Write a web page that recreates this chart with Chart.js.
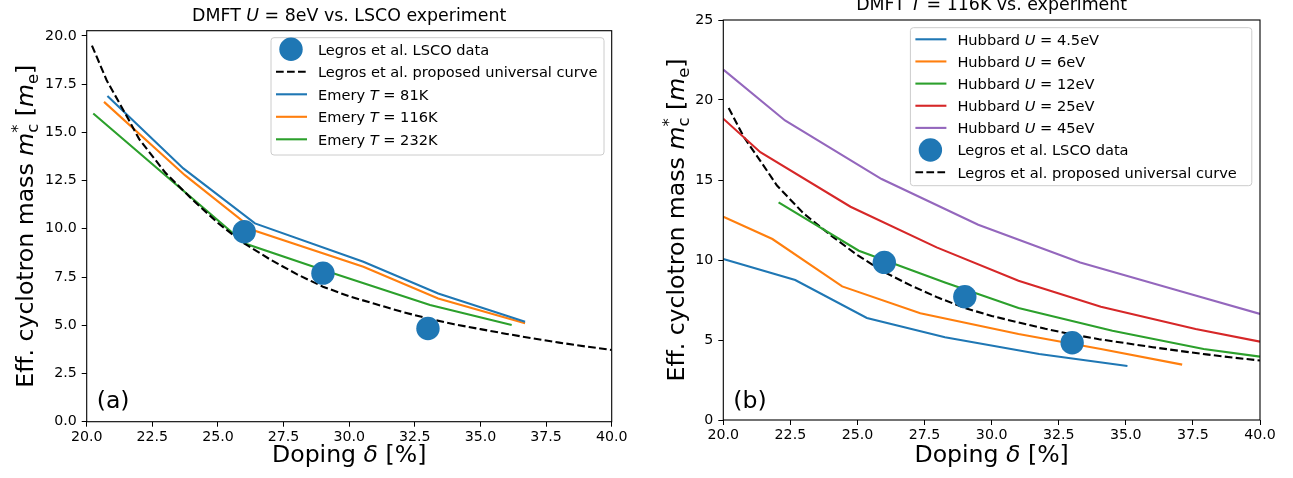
<!DOCTYPE html>
<html>
<head>
<meta charset="utf-8">
<title>DMFT cyclotron mass vs. experiment</title>
<script src="https://cdn.jsdelivr.net/npm/chart.js@4.4.1/dist/chart.umd.min.js"></script>
<style>
  html, body { margin: 0; padding: 0; background: #fff; }
  #wrap { position: relative; width: 1293px; height: 478px; overflow: hidden; }
  canvas { position: absolute; top: 0; }
  #chartA { left: 0; }
  #chartB { left: 646px; }
</style>
</head>
<body>
<div id="wrap">
  <canvas id="chartA" width="646" height="478"></canvas>
  <canvas id="chartB" width="647" height="478"></canvas>
</div>
<script>
// ---- values ----
var xTicks = [20, 22.5, 25, 27.5, 30, 32.5, 35, 37.5, 40];
var yTicksA = [0, 2.5, 5, 7.5, 10, 12.5, 15, 17.5, 20];
var yTicksB = [0, 5, 10, 15, 20, 25];

// Legros et al. LSCO data
var lscoX = [26, 29, 33];
var lscoY = [9.85, 7.7, 4.83];

// Legros et al. proposed universal curve
var legrosX = [20.2, 20.76, 21.5, 22, 23, 24, 25, 26, 27, 28, 29, 30, 31, 32, 33, 34, 35, 36, 37, 38, 39, 40];
var legrosY = [19.5, 17.7, 15.9, 14.65, 12.9, 11.55, 10.3, 9.24, 8.4, 7.65, 7.0, 6.5, 6.1, 5.7, 5.35, 5.05, 4.8, 4.55, 4.32, 4.1, 3.9, 3.72];

// panel (a): Emery model, U = 8eV
var emery81X = [20.79, 23.68, 26.41, 30.54, 33.39, 36.7];
var emery81Y = [16.88, 13.13, 10.28, 8.29, 6.65, 5.18];
var emery116X = [20.66, 23.74, 26.41, 30.54, 33.39, 36.7];
var emery116Y = [16.58, 12.78, 9.9, 8.03, 6.39, 5.1];
var emery232X = [20.25, 26.03, 29.01, 33.08, 36.19];
var emery232Y = [15.98, 9.24, 7.86, 6.05, 5.01];

// panel (b): Hubbard model, T = 116K
var hub4p5X = [20, 22.68, 25.35, 28.26, 31.77, 35.06];
var hub4p5Y = [10.06, 8.75, 6.38, 5.17, 4.13, 3.38];
var hub6X = [20, 21.83, 24.43, 27.34, 31.0, 34.07, 37.1];
var hub6Y = [12.7, 11.31, 8.35, 6.67, 5.38, 4.44, 3.46];
var hub12X = [22.06, 25.05, 28.26, 31.0, 34.5, 37.9, 40];
var hub12Y = [13.6, 10.58, 8.6, 7.0, 5.58, 4.44, 3.96];
var hub25X = [20, 21.38, 24.74, 27.95, 31.0, 34.07, 37.6, 40];
var hub25Y = [18.83, 16.74, 13.33, 10.79, 8.71, 7.08, 5.69, 4.9];
var hub45X = [20, 22.3, 25.9, 29.5, 33.3, 37.4, 40];
var hub45Y = [21.9, 18.72, 15.06, 12.2, 9.85, 7.88, 6.63];

// tab10 colours
var C_BLUE = '#1f77b4', C_ORANGE = '#ff7f0e', C_GREEN = '#2ca02c', C_RED = '#d62728', C_PURPLE = '#9467bd';
var DASH = [7.7, 3.3];
var FONT = '"DejaVu Sans", "Liberation Sans", sans-serif';
var LABEL_SIZE = 23.6, TITLE_SIZE = 17.4, LEGEND_SIZE = 14.6;

function pts(xs, ys) {
    return xs.map(function (x, i) { return { x: x, y: ys[i] }; });
}

function lineSet(label, xs, ys, color, dashed) {
    return {
        type: 'line', label: label, data: pts(xs, ys),
        borderColor: color, backgroundColor: color, borderWidth: 2.1,
        borderDash: dashed ? DASH : [], pointRadius: 0, tension: 0, fill: false, order: 2
    };
}

function dotSet(label, xs, ys) {
    return {
        type: 'scatter', label: label, data: pts(xs, ys),
        backgroundColor: C_BLUE, borderWidth: 0, pointRadius: 11.7, pointHoverRadius: 11.7, order: 0
    };
}

// ---- rich text (italic variables, sub/superscripts) ----
function fontStr(size, it) { return (it ? 'italic ' : '') + size + 'px ' + FONT; }

function partWidth(ctx, p, size) {
    if (p.sup !== undefined || p.sub !== undefined) {
        ctx.font = fontStr(size * 0.7, p.it);
        var a = p.sup ? ctx.measureText(p.sup).width : 0;
        var b = p.sub ? ctx.measureText(p.sub).width : 0;
        return Math.max(a, b);
    }
    ctx.font = fontStr(size, p.it);
    return ctx.measureText(p.t).width;
}

function drawRich(ctx, parts, x, y, size, align) {
    var w = 0;
    parts.forEach(function (p) { w += partWidth(ctx, p, size); });
    var cx = align === 'center' ? x - w / 2 : x;
    ctx.textAlign = 'left';
    ctx.textBaseline = 'alphabetic';
    parts.forEach(function (p) {
        var pw = partWidth(ctx, p, size);
        if (p.sup !== undefined || p.sub !== undefined) {
            if (p.sup) ctx.fillText(p.sup, cx, y - size * 0.45);
            if (p.sub) ctx.fillText(p.sub, cx, y + size * 0.22);
        } else {
            ctx.fillText(p.t, cx, y);
        }
        cx += pw;
    });
}

var yLabelParts = [
    { t: 'Eff. cyclotron mass ' }, { t: 'm', it: true }, { sup: '*', sub: 'c' },
    { t: ' [' }, { t: 'm', it: true }, { sub: 'e' }, { t: ']' }
];
var xLabelParts = [{ t: 'Doping ' }, { t: '\u03b4', it: true }, { t: ' [%]' }];

// draws frame, titles, labels and the legend on top of the chart
function decorPlugin(cfg) {
    return {
        id: 'decor',
        afterDraw: function (chart) {
            var ctx = chart.ctx, a = chart.chartArea;
            ctx.save();
            ctx.strokeStyle = '#000';
            ctx.lineWidth = 1.1;
            ctx.strokeRect(a.left, a.top, a.right - a.left, a.bottom - a.top);

            ctx.fillStyle = '#000';
            var mid = (a.left + a.right) / 2;
            drawRich(ctx, cfg.title, mid, cfg.titleY, TITLE_SIZE, 'center');
            drawRich(ctx, xLabelParts, mid, 462, LABEL_SIZE, 'center');

            ctx.save();
            ctx.translate(cfg.yLabelX, (a.top + a.bottom) / 2);
            ctx.rotate(-Math.PI / 2);
            drawRich(ctx, yLabelParts, 0, 0, LABEL_SIZE, 'center');
            ctx.restore();

            ctx.font = fontStr(LABEL_SIZE, false);
            ctx.textAlign = 'left';
            ctx.fillText(cfg.panel, a.left + 10, 407.5);

            // legend
            var L = cfg.legend;
            ctx.fillStyle = 'rgba(255,255,255,0.8)';
            ctx.strokeStyle = '#cccccc';
            ctx.lineWidth = 1;
            ctx.beginPath();
            ctx.roundRect(L.x, L.y, L.w, L.h, 3);
            ctx.fill();
            ctx.stroke();
            L.items.forEach(function (it, i) {
                var ry = L.y + L.first + i * L.step;
                var hx = L.x + 5;
                if (it.kind === 'dot') {
                    ctx.fillStyle = C_BLUE;
                    ctx.beginPath();
                    ctx.arc(hx + 15, ry, 11.7, 0, Math.PI * 2);
                    ctx.fill();
                } else {
                    ctx.strokeStyle = it.color;
                    ctx.lineWidth = 2.1;
                    ctx.setLineDash(it.dashed ? DASH : []);
                    ctx.beginPath();
                    ctx.moveTo(hx, ry);
                    ctx.lineTo(hx + 31, ry);
                    ctx.stroke();
                    ctx.setLineDash([]);
                }
                ctx.fillStyle = '#000';
                drawRich(ctx, it.text, hx + 42, ry + 5.3, LEGEND_SIZE, 'left');
            });
            ctx.restore();
        }
    };
}

function axisCfg(ticks, min, max, fmt, size, pad) {
    return {
        type: 'linear', min: min, max: max,
        afterBuildTicks: function (s) { s.ticks = ticks.map(function (v) { return { value: v }; }); },
        afterFit: function (s) {
            if (s.isHorizontal()) s.height = size; else s.width = size;
        },
        grid: { display: true, drawOnChartArea: false, drawTicks: true, tickLength: 5, color: '#000', lineWidth: 1 },
        border: { display: false },
        ticks: {
            color: '#000', padding: pad, maxRotation: 0, autoSkip: false,
            font: { family: FONT, size: 14.2 },
            callback: function (v) { return fmt(v); }
        }
    };
}

function oneDec(v) { return v.toFixed(1); }
function noDec(v) { return v.toFixed(0); }

function makeChart(id, datasets, xs, ys, pad, decor) {
    var ctx = document.getElementById(id).getContext('2d');
    return new Chart(ctx, {
        data: { datasets: datasets },
        options: {
            responsive: false,
            animation: false,
            layout: { padding: pad.layout },
            scales: { x: xs, y: ys },
            plugins: { legend: { display: false }, tooltip: { enabled: false } },
            events: []
        },
        plugins: [decorPlugin(decor)]
    });
}

// ---- panel (a) ----
makeChart('chartA', [
    dotSet('Legros et al. LSCO data', lscoX, lscoY),
    lineSet('Legros et al. proposed universal curve', legrosX, legrosY, '#000', true),
    lineSet('Emery T = 81K', emery81X, emery81Y, C_BLUE),
    lineSet('Emery T = 116K', emery116X, emery116Y, C_ORANGE),
    lineSet('Emery T = 232K', emery232X, emery232Y, C_GREEN)
],
    axisCfg(xTicks, 20, 40, oneDec, 478 - 421.7, 2),
    axisCfg(yTicksA, 0, 20.27, oneDec, 86.7, 5),
    { layout: { left: 0, right: 646 - 611.7, top: 30.7, bottom: 0 } },
    {
        title: [{ t: 'DMFT ' }, { t: 'U', it: true }, { t: ' = 8eV vs. LSCO experiment' }],
        titleY: 20.7, yLabelX: 33.3, panel: '(a)',
        legend: {
            x: 271, y: 37.7, w: 333, h: 117.3, first: 11.6, step: 22.5,
            items: [
                { kind: 'dot', text: [{ t: 'Legros et al. LSCO data' }] },
                { dashed: true, color: '#000', text: [{ t: 'Legros et al. proposed universal curve' }] },
                { color: C_BLUE, text: [{ t: 'Emery ' }, { t: 'T', it: true }, { t: ' = 81K' }] },
                { color: C_ORANGE, text: [{ t: 'Emery ' }, { t: 'T', it: true }, { t: ' = 116K' }] },
                { color: C_GREEN, text: [{ t: 'Emery ' }, { t: 'T', it: true }, { t: ' = 232K' }] }
            ]
        }
    });

// ---- panel (b) ----
makeChart('chartB', [
    lineSet('Hubbard U = 4.5eV', hub4p5X, hub4p5Y, C_BLUE),
    lineSet('Hubbard U = 6eV', hub6X, hub6Y, C_ORANGE),
    lineSet('Hubbard U = 12eV', hub12X, hub12Y, C_GREEN),
    lineSet('Hubbard U = 25eV', hub25X, hub25Y, C_RED),
    lineSet('Hubbard U = 45eV', hub45X, hub45Y, C_PURPLE),
    dotSet('Legros et al. LSCO data', lscoX, lscoY),
    lineSet('Legros et al. proposed universal curve', legrosX, legrosY, '#000', true)
],
    axisCfg(xTicks, 20, 40, oneDec, 478 - 420, 2),
    axisCfg(yTicksB, 0, 25, noDec, 723.3 - 646, 5),
    { layout: { left: 0, right: 647 - 614, top: 20, bottom: 0 } },
    {
        title: [{ t: 'DMFT ' }, { t: 'T', it: true }, { t: ' = 116K vs. experiment' }],
        titleY: 9.5, yLabelX: 684.3 - 646, panel: '(b)',
        legend: {
            x: 910.4 - 646, y: 27.7, w: 341.4, h: 158, first: 11.6, step: 22.15,
            items: [
                { color: C_BLUE, text: [{ t: 'Hubbard ' }, { t: 'U', it: true }, { t: ' = 4.5eV' }] },
                { color: C_ORANGE, text: [{ t: 'Hubbard ' }, { t: 'U', it: true }, { t: ' = 6eV' }] },
                { color: C_GREEN, text: [{ t: 'Hubbard ' }, { t: 'U', it: true }, { t: ' = 12eV' }] },
                { color: C_RED, text: [{ t: 'Hubbard ' }, { t: 'U', it: true }, { t: ' = 25eV' }] },
                { color: C_PURPLE, text: [{ t: 'Hubbard ' }, { t: 'U', it: true }, { t: ' = 45eV' }] },
                { kind: 'dot', text: [{ t: 'Legros et al. LSCO data' }] },
                { dashed: true, color: '#000', text: [{ t: 'Legros et al. proposed universal curve' }] }
            ]
        }
    });
</script>
</body>
</html>
